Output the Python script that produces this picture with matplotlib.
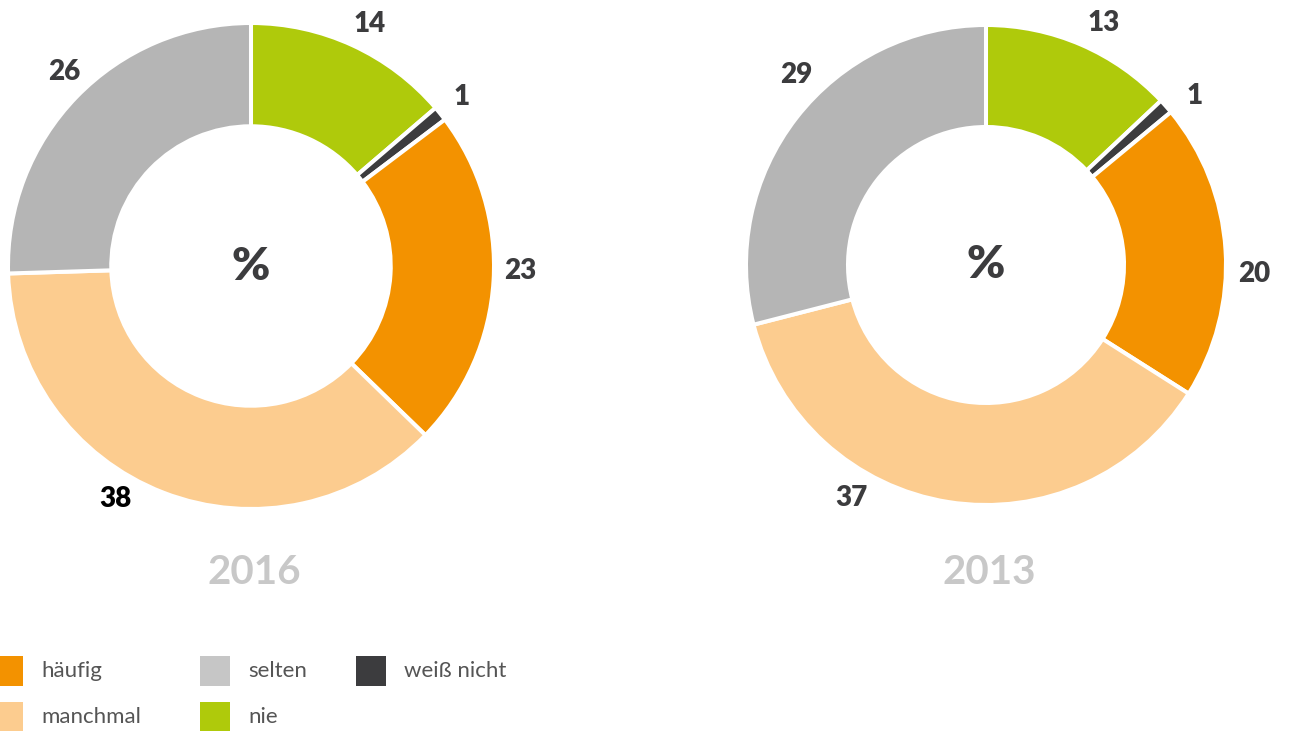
import matplotlib
matplotlib.use("Agg")
import matplotlib.pyplot as plt
from matplotlib.patches import Rectangle
import numpy as np

plt.rcParams['font.family'] = ['Lato', 'DejaVu Sans']

# Data (clockwise from top)
categories = ["nie", "weiß nicht", "häufig", "manchmal", "selten"]
values_2016 = [14, 1, 23, 38, 26]
values_2013 = [13, 1, 20, 37, 29]
years = ["2016", "2013"]
pie_colors = ["#AFCA0B", "#3C3C3E", "#F39200", "#FCCC8F", "#B5B5B5"]

legend_order = ["häufig", "selten", "weiß nicht", "manchmal", "nie"]
legend_colors = {"häufig": "#F39200", "selten": "#C6C6C6", "weiß nicht": "#3C3C3E",
                 "manchmal": "#FCCC8F", "nie": "#AFCA0B"}

W, H = 1292, 731
fig = plt.figure(figsize=(W / 100, H / 100), dpi=100)
ax = fig.add_axes([0, 0, 1, 1])

donuts = [
    dict(vals=values_2016, cx=251, cy=H - 266, r=243, year=years[0], ylab=H - 572,
         lab_r=1.11, lab_shift=[1.3, 0, -2.5, 9, 2]),
    dict(vals=values_2013, cx=986, cy=H - 265, r=240, year=years[1], ylab=H - 572,
         lab_r=1.12, lab_shift=[2.6, 2.4, 5.6, 21, 7.2]),
]

for d in donuts:
    wedges, _ = ax.pie(
        d["vals"], colors=pie_colors, startangle=90, counterclock=False,
        center=(d["cx"], d["cy"]), radius=d["r"],
        wedgeprops=dict(width=d["r"] * 0.425, edgecolor="white", linewidth=2.9),
        frame=True,
    )
    for i, w in enumerate(wedges):
        mid = (w.theta1 + w.theta2) / 2 - d["lab_shift"][i]
        a = np.deg2rad(mid)
        rr = d["r"] * d["lab_r"]
        color = "black" if (d["year"] == "2016" and i == 3) else "#3C3C3E"
        ax.text(d["cx"] + rr * np.cos(a), d["cy"] + rr * np.sin(a), str(d["vals"][i]),
                fontsize=20, fontweight="heavy", color=color, ha="center", va="center")
    ax.text(d["cx"], d["cy"], "%", fontsize=33, fontweight="heavy", color="#3C3C3E",
            ha="center", va="center")
    ax.text(d["cx"] + 3, d["ylab"], d["year"], fontsize=29, fontweight="bold",
            color="#C8C8C8", ha="center", va="center")

ax.set_xlim(0, W)
ax.set_ylim(0, H)
ax.set_aspect('equal')
ax.axis('off')

# Legend
col_x = [-7, 200, 356]
row_y = [H - 671, H - 717]
for i, cat in enumerate(legend_order):
    col = i % 3
    row = i // 3
    x = col_x[col]
    y = row_y[row]
    ax.add_patch(Rectangle((x, y - 15), 30, 30, facecolor=legend_colors[cat],
                           edgecolor="none", clip_on=False))
    ax.text(x + 48, y, cat, fontsize=16, color="#555555", ha="left", va="center")

fig.savefig("out.png", dpi=100)
